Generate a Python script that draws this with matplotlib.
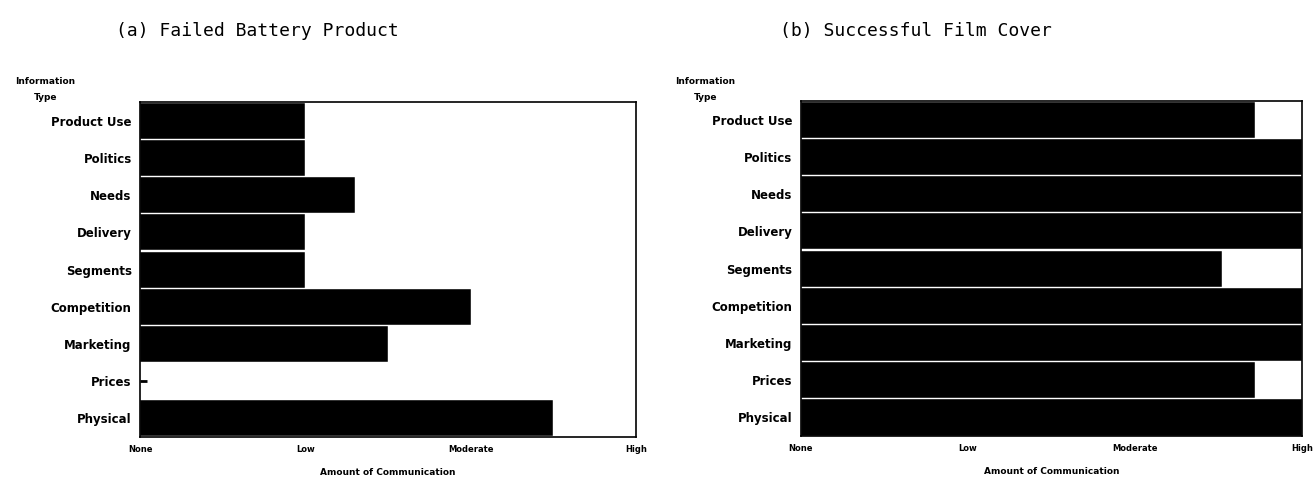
import matplotlib
matplotlib.use("Agg")
import matplotlib.pyplot as plt

categories = ["Product Use", "Politics", "Needs", "Delivery", "Segments",
              "Competition", "Marketing", "Prices", "Physical"]
failed_battery = [1.0, 1.0, 1.3, 1.0, 1.0, 2.0, 1.5, 0.04, 2.5]
film_cover = [2.72, 3.0, 3.0, 3.0, 2.52, 3.0, 3.0, 2.72, 3.0]
level_labels = ["None", "Low", "Moderate", "High"]

panels = [
    ("(a) Failed Battery Product", failed_battery, [0.1065, 0.097, 0.3772, 0.692], 0.088, 0.84),
    ("(b) Successful Film Cover", film_cover, [0.609, 0.099, 0.381, 0.692], 0.593, 0.85),
]

fig = plt.figure(figsize=(13.15, 4.84), dpi=100)
for title, vals, rect, tx, ix in panels:
    ax = fig.add_axes(rect)
    ypos = list(range(len(categories)))
    for y, v in zip(ypos, vals):
        if v < 0.1:
            # near-zero amount: drawn as a short stub on the axis
            ax.plot([0, v], [y, y], color="black", lw=2, solid_capstyle="butt")
        else:
            ax.barh(y, v, height=0.97, color="black", edgecolor="white", lw=0.3)
    ax.set_ylim(len(categories) - 0.5, -0.5)
    ax.set_xlim(0, 3)
    ax.set_yticks(ypos)
    ax.set_yticklabels(categories, fontsize=8.5, fontweight="bold")
    ax.set_xticks(range(4))
    ax.set_xticklabels(level_labels, fontsize=6, fontweight="bold")
    ax.tick_params(length=0, pad=6)
    for sp in ax.spines.values():
        sp.set_linewidth(1.2)
    ax.set_xlabel("Amount of Communication", fontsize=6.5, fontweight="bold", labelpad=10)
    fig.text(rect[0] - ix * 0.0855 + 0.0, 0.79, "Information\nType", fontsize=6.5,
             fontweight="bold", ha="center", va="bottom", linespacing=1.9)
    fig.text(tx, 0.935, title, fontsize=13, family="DejaVu Sans Mono", ha="left", va="center")

fig.savefig("out.png", dpi=100)
